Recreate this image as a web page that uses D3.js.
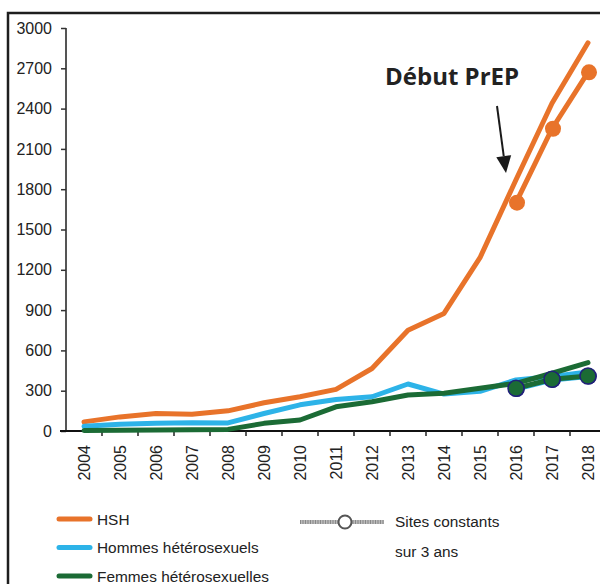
<!DOCTYPE html>
<html>
<head>
<meta charset="utf-8">
<script src="https://cdn.jsdelivr.net/npm/d3@7"></script>
<style>
  body { margin: 0; background: #fff; }
  svg { display: block; }
  text { font-family: "Liberation Sans", Arial, sans-serif; fill: #222; }
</style>
</head>
<body>
<svg id="chart" width="600" height="584"></svg>
<script>
'use strict';

var years = [2004, 2005, 2006, 2007, 2008, 2009, 2010, 2011, 2012, 2013, 2014, 2015, 2016, 2017, 2018];
var hsh = [68, 105, 130, 125, 150, 210, 255, 310, 465, 750, 875, 1290, 1870, 2440, 2890];
var hommesHetero = [35, 50, 58, 62, 60, 130, 195, 235, 255, 350, 275, 295, 380, 405, 440];
var femmesHetero = [3, 6, 8, 10, 12, 57, 82, 180, 218, 268, 281, 318, 355, 430, 509];

var constYears = [2016, 2017, 2018];
var hshConst = [1700, 2250, 2670];
var hommesConst = [312, 380, 405];
var femmesConst = [318, 385, 409];

var yTicks = [0, 300, 600, 900, 1200, 1500, 1800, 2100, 2400, 2700, 3000];

var legendSeries = ["HSH", "Hommes hétérosexuels", "Femmes hétérosexuelles"];
var legendConst = ["Sites constants", "sur 3 ans"];
var annotation = "Début PrEP";

var colors = {hsh: "#e8732a", hommes: "#2db3e8", femmes: "#1b6b35", navy: "#20207a"};

var svg = d3.select("#chart");

var x = d3.scaleBand()
    .domain(years)
    .range([66, 606])
    .padding(0);

var y = d3.scaleLinear()
    .domain([0, 3000])
    .range([431, 28]);

function cx(yr) { return x(yr) + x.bandwidth() / 2; }

//frame
svg.append("path")
    .attr("d", "M8,590 L8,13 L606,13")
    .attr("fill", "none")
    .attr("stroke", "#1e1e1e")
    .attr("stroke-width", 2.5);

//y axis
var yAxis = svg.append("g")
    .attr("transform", "translate(66,0)")
    .call(d3.axisLeft(y).tickValues(yTicks).tickSize(5).tickPadding(9).tickFormat(d3.format("d")));
yAxis.select(".domain").attr("stroke", "#555").attr("stroke-width", 2).attr("d", "M0," + y(3000) + "V" + y(0));
yAxis.selectAll(".tick line").attr("stroke", "#333").attr("stroke-width", 1.5);
yAxis.selectAll(".tick text").style("font-size", "16px").attr("fill", "#222");

//x axis
var xAxis = svg.append("g")
    .attr("transform", "translate(0," + y(0) + ")");
xAxis.append("line")
    .attr("x1", 60).attr("x2", 606)
    .attr("stroke", "#111").attr("stroke-width", 2);
xAxis.selectAll(".xtick")
    .data(years.slice(1))
    .enter().append("line")
    .attr("x1", function (d) { return x(d); })
    .attr("x2", function (d) { return x(d); })
    .attr("y1", 0).attr("y2", 5)
    .attr("stroke", "#222").attr("stroke-width", 1.5);
xAxis.selectAll(".xlabel")
    .data(years)
    .enter().append("text")
    .attr("transform", function (d) { return "translate(" + cx(d) + ",14) rotate(-90)"; })
    .attr("text-anchor", "end")
    .attr("dy", "0.35em")
    .style("font-size", "16px")
    .text(function (d) { return d; });

var line = d3.line()
    .x(function (d) { return cx(d[0]); })
    .y(function (d) { return y(d[1]); });

function drawLine(yrs, vals, color, w) {
    svg.append("path")
        .datum(d3.zip(yrs, vals))
        .attr("d", line)
        .attr("fill", "none")
        .attr("stroke", color)
        .attr("stroke-width", w)
        .attr("stroke-linejoin", "round")
        .attr("stroke-linecap", "round");
}

function drawDots(yrs, vals, fill, stroke, dx) {
    svg.selectAll(null)
        .data(d3.zip(yrs, vals))
        .enter().append("circle")
        .attr("cx", function (d) { return cx(d[0]) + dx; })
        .attr("cy", function (d) { return y(d[1]); })
        .attr("r", 8)
        .attr("fill", fill)
        .attr("stroke", stroke)
        .attr("stroke-width", stroke === "none" ? 0 : 1.5);
}

//main series
drawLine(years, hsh, colors.hsh, 5);
drawLine(years, hommesHetero, colors.hommes, 5);
drawLine(years, femmesHetero, colors.femmes, 5);

//constant sites
drawLine(constYears, hshConst, colors.hsh, 5);
drawDots(constYears, hshConst, colors.hsh, "none", 1);
drawLine(constYears, hommesConst, colors.hommes, 5);
drawLine(constYears, femmesConst, colors.femmes, 5);
drawDots(constYears, hommesConst, colors.navy, "none", 0.8);
drawDots(constYears, femmesConst, colors.femmes, colors.navy, 0);

//annotation
svg.append("text")
    .attr("x", 385)
    .attr("y", 85)
    .style("font-family", "'Open Sans', sans-serif")
    .style("font-weight", "bold")
    .style("font-size", "24px")
    .attr("fill", "#222")
    .text(annotation);

var a0 = [497, 106], a1 = [506, 173];
var ang = Math.atan2(a1[1] - a0[1], a1[0] - a0[0]);
var headLen = 17, headW = 7.5;
var bx = a1[0] - headLen * Math.cos(ang), by = a1[1] - headLen * Math.sin(ang);
svg.append("line")
    .attr("x1", a0[0]).attr("y1", a0[1])
    .attr("x2", bx).attr("y2", by)
    .attr("stroke", "#1a1a1a").attr("stroke-width", 2);
svg.append("path")
    .attr("d", "M" + a1[0] + "," + a1[1] +
        "L" + (bx + headW * Math.sin(ang)) + "," + (by - headW * Math.cos(ang)) +
        "L" + (bx - headW * Math.sin(ang)) + "," + (by + headW * Math.cos(ang)) + "Z")
    .attr("fill", "#1a1a1a");

//legend
var legColors = [colors.hsh, colors.hommes, colors.femmes];
var leg = svg.append("g");
legendSeries.forEach(function (name, i) {
    var ly = 519 + i * 28.5;
    leg.append("line")
        .attr("x1", 59).attr("x2", 90)
        .attr("y1", ly).attr("y2", ly)
        .attr("stroke", legColors[i]).attr("stroke-width", 5).attr("stroke-linecap", "round");
    leg.append("text")
        .attr("x", 97).attr("y", ly + 5.5)
        .style("font-size", "15.4px")
        .text(name);
});

leg.append("line")
    .attr("x1", 300).attr("x2", 384)
    .attr("y1", 522).attr("y2", 522)
    .attr("stroke", "#bbb").attr("stroke-width", 4);
leg.append("line")
    .attr("x1", 300).attr("x2", 384)
    .attr("y1", 522).attr("y2", 522)
    .attr("stroke", "#888").attr("stroke-width", 4).attr("stroke-dasharray", "1,1.5");
leg.append("circle")
    .attr("cx", 345).attr("cy", 522).attr("r", 6.5)
    .attr("fill", "#fff").attr("stroke", "#555").attr("stroke-width", 2);
legendConst.forEach(function (t, i) {
    leg.append("text")
        .attr("x", 395).attr("y", 527 + i * 30)
        .style("font-size", "15.4px")
        .text(t);
});
</script>
</body>
</html>
